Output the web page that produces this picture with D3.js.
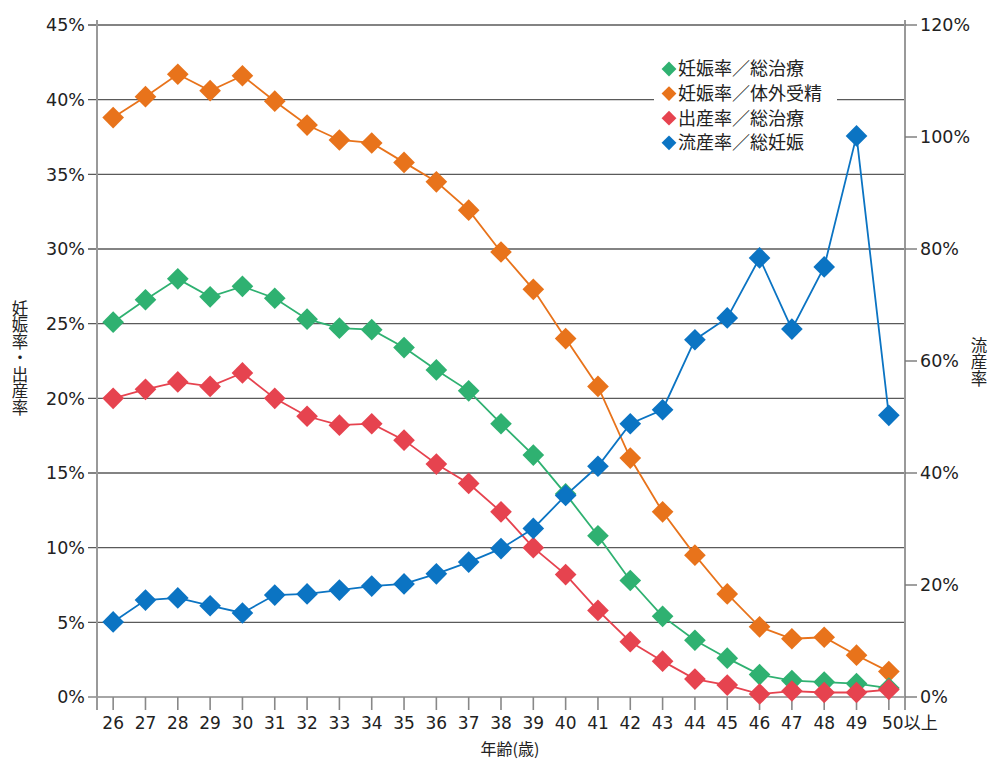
<!DOCTYPE html>
<html><head><meta charset="utf-8">
<script src="https://cdn.jsdelivr.net/npm/d3@7"></script>
<style>
body{margin:0;background:#fff;}
text{font-family:"Noto Sans CJK JP","Noto Sans",sans-serif;fill:#222;}
.num{font-family:"DejaVu Sans","Noto Sans CJK JP",sans-serif;}
</style></head>
<body><svg id="c" width="1000" height="773"></svg>
<script>
const categories = ["26","27","28","29","30","31","32","33","34","35","36","37","38","39","40","41","42","43","44","45","46","47","48","49","50以上"];
const pregnancyTotal = [25.1,26.6,28.0,26.8,27.5,26.7,25.3,24.7,24.6,23.4,21.9,20.5,18.3,16.2,13.6,10.8,7.8,5.4,3.8,2.6,1.5,1.1,1.0,0.9,0.6];
const pregnancyIVF = [38.8,40.2,41.7,40.6,41.6,39.9,38.3,37.3,37.1,35.8,34.5,32.6,29.8,27.3,24.0,20.8,16.0,12.4,9.5,6.9,4.7,3.9,4.0,2.8,1.7];
const birthTotal = [20.0,20.6,21.1,20.8,21.7,20.0,18.8,18.2,18.3,17.2,15.6,14.3,12.4,10.0,8.2,5.8,3.7,2.4,1.2,0.8,0.2,0.4,0.3,0.3,0.5];
const miscarriage = [13.4,17.3,17.7,16.3,15.0,18.2,18.4,19.1,19.8,20.2,22.0,24.1,26.5,30.1,36.0,41.2,48.8,51.3,63.8,67.7,78.4,65.7,76.8,100.2,50.3];
const leftTicks = [0,5,10,15,20,25,30,35,40,45];
const rightTicks = [0,20,40,60,80,100,120];
const seriesNames = ["妊娠率／総治療","妊娠率／体外受精","出産率／総治療","流産率／総妊娠"];
const colors = ["#2fb171","#e8731b","#e6434f","#0b74c3"];

const svg = d3.select("#c");
const L=97, R=905, T=25, B=697;
const x = d3.scaleBand().domain(categories).range([L,R]);
const yL = d3.scaleLinear().domain([0,45]).range([B,T]);
const yR = d3.scaleLinear().domain([0,120]).range([B,T]);

// gridlines
svg.append("g").selectAll("line").data(leftTicks).join("line")
  .attr("x1",L-9).attr("x2",R).attr("y1",d=>yL(d)).attr("y2",d=>yL(d))
  .attr("stroke",d=>d===0?"#888":"#5a5a5a").attr("stroke-width",1.4);
// left axis labels
svg.append("g").selectAll("text").data(leftTicks).join("text").attr("class","num")
  .attr("x",L-12).attr("y",d=>yL(d)).attr("dy","0.36em").attr("text-anchor","end")
  .attr("font-size",17.5).text(d=>d+"%");
// axis lines
svg.append("line").attr("x1",L).attr("x2",L).attr("y1",T-5).attr("y2",B+13).attr("stroke","#999").attr("stroke-width",2);
svg.append("line").attr("x1",R).attr("x2",R).attr("y1",T-5).attr("y2",B+13).attr("stroke","#999").attr("stroke-width",2);
// right ticks
svg.append("g").selectAll("line").data(rightTicks).join("line")
  .attr("x1",R).attr("x2",R+12).attr("y1",d=>yR(d)).attr("y2",d=>yR(d)).attr("stroke","#777").attr("stroke-width",1.4);
svg.append("g").selectAll("text").data(rightTicks).join("text").attr("class","num")
  .attr("x",R+15).attr("y",d=>yR(d)).attr("dy","0.36em").attr("text-anchor","start")
  .attr("font-size",17.5).text(d=>d+"%");
// x ticks
svg.append("g").selectAll("line").data(categories).join("line")
  .attr("x1",d=>x(d)+x.bandwidth()/2).attr("x2",d=>x(d)+x.bandwidth()/2)
  .attr("y1",B).attr("y2",B+13).attr("stroke","#888").attr("stroke-width",1.6);
svg.append("g").selectAll("text").data(categories).join("text").attr("class","num")
  .attr("x",(d,i)=>x(d)+x.bandwidth()/2 + (i===categories.length-1?21:0)).attr("y",723).attr("dy","0.36em")
  .attr("text-anchor","middle").attr("font-size",17).text(d=>d);
svg.append("text").attr("x",510).attr("y",749).attr("dy","0.35em").attr("text-anchor","middle").attr("font-size",16).text("年齢(歳)");

// axis titles (vertical)
svg.append("text").attr("x",20).attr("y",358).attr("text-anchor","middle")
  .style("writing-mode","vertical-rl").style("text-orientation","upright").attr("dominant-baseline","central")
  .attr("font-size",16.5).text("妊娠率・出産率");
svg.append("text").attr("x",979).attr("y",362).attr("text-anchor","middle")
  .style("writing-mode","vertical-rl").style("text-orientation","upright").attr("dominant-baseline","central")
  .attr("font-size",16.5).text("流産率");

// series
const seriesData = [
  {vals:pregnancyIVF, c:colors[1], s:yL},
  {vals:pregnancyTotal, c:colors[0], s:yL},
  {vals:birthTotal, c:colors[2], s:yL},
  {vals:miscarriage, c:colors[3], s:yR}
];
const sym = d3.symbol().type(d3.symbolSquare).size(235);
seriesData.forEach(sd=>{
  const line = d3.line().x((d,i)=>x(categories[i])+x.bandwidth()/2).y(d=>sd.s(d));
  svg.append("path").datum(sd.vals).attr("d",line).attr("fill","none").attr("stroke",sd.c).attr("stroke-width",1.8);
  svg.append("g").selectAll("path").data(sd.vals).join("path")
    .attr("d",sym).attr("fill",sd.c)
    .attr("transform",(d,i)=>`translate(${x(categories[i])+x.bandwidth()/2},${sd.s(d)}) rotate(45)`);
});

// legend
const lg = svg.append("g");
lg.append("rect").attr("x",654).attr("y",57).attr("width",183).attr("height",98).attr("fill","#fff");
const lsym = d3.symbol().type(d3.symbolSquare).size(110);
seriesNames.forEach((n,i)=>{
  const yy = 69 + i*24.6;
  lg.append("path").attr("d",lsym).attr("fill",colors[i]).attr("transform",`translate(669,${yy}) rotate(45)`);
  lg.append("text").attr("x",678).attr("y",yy).attr("dy","0.35em").attr("font-size",18).text(n);
});
</script></body></html>
